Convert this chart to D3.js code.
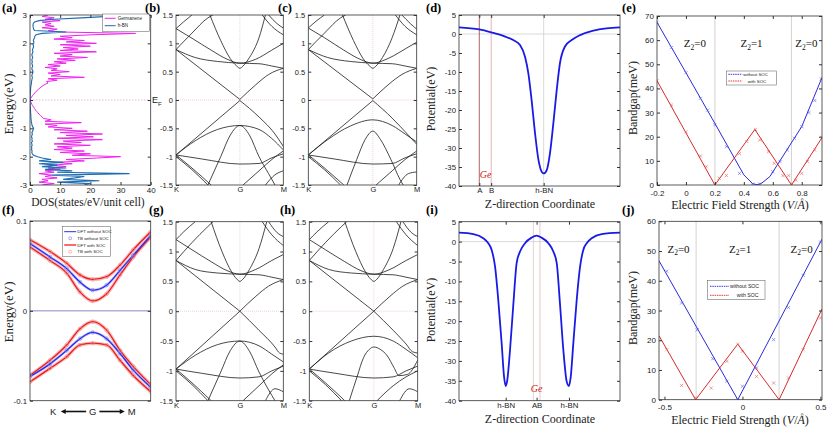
<!DOCTYPE html>
<html><head><meta charset="utf-8">
<script src="https://cdn.jsdelivr.net/npm/d3@7"></script>
<style>body{margin:0;background:#fff} svg{display:block}</style>
</head><body><script>
// ---------------- DATA ----------------
// (a) DOS, energy grid -3..3 eV step 0.05
const dosEnergy = d3.range(121).map(i => Math.round((-3 + i*0.05)*100)/100);
const dosGermanene = [4,8,3,6,4,9,5,7,3,8,5,10,6,12,7,14,9,18,12,22,30,14,20,10,18,8,14,9,20,8,17,11,24,9,21,12,24,10,19,8,14,6,9,5,17,5,7,4.5,4,3.5,3,2.6,2.2,1.8,1.5,1.2,0.9,0.6,0.4,0.2,0,0.2,0.5,0.8,1.2,1.6,2,2.5,3,3.6,4.2,5,6,5.5,9,6,18,7,10,6,13,7,9,5,10,6,12,8,15,9,19,10,14,8,22,10,16,11,20,10,22,12,18,8,14,10,20,35,10,6,9,4,8,5,7,4,10,5,8,4,6];
const dosHBN = [18,20,9,23,11,15,18,7,33,9,14,5,12,4,9,3,11,3,7,4,2.5,1.2,0.8,0.6,0.7,0.5,0.6,0.5,0.7,0.6,0.5,0.8,0.6,0.7,0.5,0.6,0.8,0.6,0.9,1,1.2,0.9,0.7,0.6,0.5,0.4,0.4,0.3,0.3,0.3,0.25,0.2,0.2,0.15,0.15,0.1,0.1,0.05,0.05,0,0,0,0.05,0.05,0.1,0.1,0.15,0.2,0.2,0.25,0.3,0.4,0.5,0.5,0.6,0.7,0.8,0.6,0.7,0.9,1,0.8,0.6,0.7,0.9,0.7,0.6,0.8,0.6,0.7,0.9,0.7,0.6,0.8,1,0.8,0.9,1.1,1.2,1,1.2,1.3,1.1,1.3,1.5,1.6,2,4,12,1.5,1.2,1.1,1,1,1.1,1.5,3,8,17,26,38];
const dosSeries = ["Germanene","h-BN"];

// band structures: k (K=0, G=1, M=1.68), energy eV
const kLabels = ["K","G","M"];
const kTicks = [0,1,1.68];
const bandsB = [
 [[0,0.89],[1,0.01]],
 [[0,-0.97],[1,-0.01]],
 [[1,0.01],[1.25,0.27],[1.45,0.45],[1.68,0.56]],
 [[1,-0.01],[1.3,-0.3],[1.55,-0.6],[1.68,-0.82]],
 [[0,0.89],[0.3,0.75],[0.65,0.68],[1,0.65],[1.3,0.64],[1.5,0.6],[1.68,0.56]],
 [[0,1.26],[0.25,1.09],[0.55,0.88],[0.8,0.72],[1,0.65],[1.25,0.72],[1.5,0.88],[1.68,1.0]],
 [[0.53,1.5],[0.7,1.05],[0.85,0.73],[0.95,0.6],[1,0.56],[1.05,0.6],[1.15,0.75],[1.3,1.1],[1.4,1.5]],
 [[0,0.89],[0.25,1.18],[0.5,1.45],[0.58,1.5]],
 [[0,1.26],[0.12,1.38],[0.25,1.5]],
 [[1.35,1.5],[1.5,1.3],[1.68,1.15]],
 [[1.45,1.5],[1.58,1.35],[1.68,1.27]],
 [[0,-0.97],[0.3,-0.72],[0.65,-0.52],[1,-0.45],[1.3,-0.52],[1.5,-0.68],[1.68,-0.88]],
 [[0.5,-1.5],[0.7,-1.0],[0.85,-0.62],[1,-0.45],[1.15,-0.62],[1.3,-1.0],[1.45,-1.3],[1.55,-1.5]],
 [[0,-0.97],[0.4,-1.04],[1,-1.13],[1.3,-1.12],[1.5,-1.02],[1.68,-0.95]],
 [[0,-0.97],[0.25,-1.2],[0.55,-1.5]],
 [[0,-1.0],[0.25,-1.23],[0.5,-1.5]],
 [[1.05,-1.5],[1.3,-1.25],[1.5,-1.05],[1.68,-0.9]],
 [[1.4,-1.5],[1.55,-1.32],[1.68,-1.25]]
];
const bandsC = [
 [[0,0.89],[1,0.02]],
 [[0,-0.97],[1,-0.01]],
 [[1,0.02],[1.25,0.28],[1.45,0.45],[1.68,0.56]],
 [[1,-0.01],[1.3,-0.32],[1.55,-0.62],[1.68,-0.78]],
 [[0,0.89],[0.3,0.75],[0.65,0.68],[1,0.65],[1.3,0.64],[1.5,0.6],[1.68,0.56]],
 [[0,1.27],[0.25,1.1],[0.55,0.88],[0.8,0.72],[1,0.65],[1.25,0.74],[1.5,0.9],[1.68,1.02]],
 [[0.53,1.5],[0.7,1.05],[0.85,0.73],[0.95,0.6],[1,0.56],[1.05,0.6],[1.15,0.75],[1.3,1.1],[1.42,1.5]],
 [[0,0.89],[0.25,1.18],[0.5,1.45],[0.58,1.5]],
 [[0,1.27],[0.12,1.39],[0.25,1.5]],
 [[1.35,1.5],[1.5,1.3],[1.68,1.15]],
 [[1.45,1.5],[1.58,1.35],[1.68,1.25]],
 [[0,-0.97],[0.3,-0.7],[0.65,-0.46],[1,-0.35],[1.3,-0.45],[1.5,-0.6],[1.68,-0.74]],
 [[0.6,-1.5],[0.75,-1.05],[0.88,-0.7],[1,-0.55],[1.12,-0.7],[1.28,-1.05],[1.42,-1.4],[1.47,-1.5]],
 [[0,-0.97],[0.4,-1.04],[1,-1.13],[1.3,-1.12],[1.5,-1.02],[1.68,-0.95]],
 [[0,-0.97],[0.25,-1.2],[0.55,-1.5]],
 [[0,-1.0],[0.25,-1.23],[0.5,-1.5]],
 [[1.05,-1.5],[1.3,-1.25],[1.5,-1.05],[1.68,-0.9]],
 [[1.4,-1.5],[1.55,-1.3],[1.68,-1.27]]
];
const bandsG = [
 [[0,0.85],[1,0.0]],
 [[0,-0.97],[1,0.0]],
 [[1,0],[1.25,0.25],[1.45,0.42],[1.68,0.53]],
 [[1,0],[1.3,-0.32],[1.55,-0.6],[1.62,-0.7],[1.68,-0.72]],
 [[0,0.85],[0.3,0.7],[0.65,0.64],[1,0.62],[1.3,0.61],[1.5,0.57],[1.68,0.53]],
 [[0,1.2],[0.25,1.03],[0.55,0.83],[0.8,0.68],[1,0.62],[1.25,0.7],[1.5,0.85],[1.68,0.95]],
 [[0.55,1.5],[0.72,1.0],[0.87,0.66],[0.95,0.54],[1,0.5],[1.05,0.54],[1.15,0.7],[1.3,1.05],[1.42,1.5]],
 [[0,0.85],[0.25,1.15],[0.5,1.42],[0.58,1.5]],
 [[0,1.2],[0.12,1.33],[0.3,1.5]],
 [[1.35,1.5],[1.5,1.28],[1.68,1.1]],
 [[1.45,1.5],[1.58,1.32],[1.68,1.25]],
 [[0,-0.97],[0.3,-0.74],[0.65,-0.56],[1,-0.5],[1.3,-0.58],[1.5,-0.72],[1.68,-0.85]],
 [[0.5,-1.5],[0.7,-1.02],[0.85,-0.66],[1,-0.5],[1.15,-0.67],[1.3,-1.02],[1.45,-1.32],[1.55,-1.5]],
 [[0,-0.97],[0.4,-1.04],[1,-1.12],[1.3,-1.1],[1.5,-1.0],[1.68,-0.92]],
 [[0,-0.97],[0.25,-1.2],[0.55,-1.5]],
 [[0,-1.0],[0.25,-1.23],[0.5,-1.5]],
 [[1.05,-1.5],[1.3,-1.25],[1.5,-1.05],[1.68,-0.9]],
 [[1.4,-1.5],[1.55,-1.3],[1.68,-1.35]]
];
const bandsH = [
 [[0,0.85],[1,0.0]],
 [[0,-0.97],[1,0.0]],
 [[1,0],[1.25,0.25],[1.45,0.42],[1.68,0.53]],
 [[1,0],[1.3,-0.32],[1.5,-0.55],[1.6,-0.68],[1.68,-0.7]],
 [[0,0.85],[0.3,0.7],[0.65,0.64],[1,0.62],[1.3,0.61],[1.5,0.57],[1.68,0.53]],
 [[0,1.2],[0.25,1.03],[0.55,0.83],[0.8,0.68],[1,0.62],[1.25,0.7],[1.5,0.85],[1.68,0.95]],
 [[0.55,1.5],[0.72,1.0],[0.87,0.66],[0.95,0.54],[1,0.5],[1.05,0.54],[1.15,0.7],[1.3,1.05],[1.42,1.5]],
 [[0,0.85],[0.25,1.15],[0.5,1.42],[0.58,1.5]],
 [[0,1.2],[0.12,1.33],[0.3,1.5]],
 [[1.35,1.5],[1.5,1.28],[1.68,1.1]],
 [[1.45,1.5],[1.58,1.32],[1.68,1.25]],
 [[0,-0.97],[0.3,-0.7],[0.65,-0.5],[1,-0.42],[1.3,-0.5],[1.5,-0.64],[1.68,-0.78]],
 [[0.62,-1.5],[0.74,-1.1],[0.84,-0.78],[0.93,-0.64],[1,-0.6],[1.1,-0.64],[1.21,-0.75],[1.31,-0.94],[1.39,-1.08],[1.52,-1.06],[1.68,-0.82]],
 [[0,-0.97],[0.4,-1.04],[1,-1.12],[1.3,-1.1],[1.5,-1.0],[1.68,-0.92]],
 [[0,-0.97],[0.25,-1.2],[0.55,-1.5]],
 [[0,-1.0],[0.25,-1.23],[0.5,-1.5]],
 [[1.05,-1.5],[1.3,-1.25],[1.5,-1.1],[1.68,-1.0]],
 [[1.4,-1.5],[1.55,-1.3],[1.68,-1.35]]
];

// (d) potential, single h-BN; z fraction 0..1
const potDZ = [0,0.126,0.2,0.275,0.337,0.379,0.41,0.431,0.451,0.472,0.493,0.513,0.526,0.545,0.565,0.586,0.607,0.627,0.658,0.7,0.752,0.834,0.917,1.0];
const potDV = [1.75,1.2,0.44,-0.5,-1.6,-2.9,-6,-10.4,-17.4,-26,-33,-36.2,-36.7,-35.8,-31.4,-23.5,-14.7,-7.7,-3.3,-1.6,-0.3,0.9,1.5,1.75];
const potDTicks = [0.126,0.2,0.526];
const potDTickLabels = ["A","B","h-BN"];
// (i) potential, sandwich
const potIZ = [0,0.089,0.151,0.182,0.203,0.224,0.244,0.265,0.280,0.290,0.300,0.317,0.338,0.358,0.379,0.410,0.451,0.482,0.513,0.555,0.586,0.607,0.627,0.648,0.669,0.683,0.694,0.710,0.731,0.752,0.772,0.793,0.824,0.886,1.0];
const potIV = [2.26,1.9,0.84,-0.4,-2.1,-6.3,-14.7,-25.6,-34,-36.3,-34.8,-27.2,-15.5,-5.4,-2.5,-0.4,1.0,1.5,1.0,-0.4,-2.5,-5.4,-15.5,-27.2,-35.2,-36.3,-34,-25.6,-14.7,-6.3,-2.1,-0.4,0.84,1.9,2.26];
const potITicks = [0.29,0.482,0.683];
const potITickLabels = ["h-BN","AB","h-BN"];
const potILines = [0.462,0.503];

// (e) bandgap vs field (V/Å)
const eBlueField = [-0.2,-0.1,0,0.1,0.15,0.2,0.28,0.37,0.46,0.51,0.6,0.65,0.7,0.75,0.8,0.85,0.89,0.935];
const eBlueGap   = [67.4,56.9,46.5,35.9,31,25,15.9,4.8,0.4,0.4,5.5,9.7,14.5,19.3,24.2,30,35,44];
const eBlueFitX = [-0.2,0,0.2,0.4,0.46,0.49,0.52,0.58,0.8,0.94];
const eBlueFitY = [67.4,46.5,25.5,4.2,0.6,0.1,0.6,3.5,24.2,44.5];
const eRedField = [-0.2,-0.1,0,0.1,0.14,0.2,0.23,0.28,0.37,0.42,0.48,0.51,0.57,0.61,0.67,0.71,0.73,0.76,0.8,0.84,0.89,0.94];
const eRedGap   = [43.2,33.1,22,12,7.6,0.4,2.8,3.9,13,18,23,18.6,13.8,9,3.9,3.9,0.4,2,4.8,9.7,14.5,19.6];
const eRedFitX = [-0.2,0.2,0.476,0.729,0.94];
const eRedFitY = [43.2,0,23,0,19.6];
const eBounds = [0.2,0.729];
const eZ2 = [[0.062,"0"],[0.453,"1"],[0.832,"0"]];
// (j)
const jBlueField = [-0.485,-0.39,-0.29,-0.19,-0.1,-0.03,0,0.09,0.2,0.295,0.39,0.5];
const jBlueGap   = [43.2,32.5,23.5,13.8,6.2,0,4.5,10.7,20.2,31,41.8,53];
const jBlueFitX = [-0.535,-0.03,0.51];
const jBlueFitY = [46.7,0,54];
const jRedField = [-0.485,-0.39,-0.3,-0.2,-0.1,-0.03,0,0.09,0.2,0.295,0.39,0.5];
const jRedGap   = [16.8,4.8,0.6,3.9,12.9,18.7,16.3,7.8,5.6,7.3,16.8,27.5];
const jRedFitX = [-0.535,-0.3,-0.03,0.235,0.51];
const jRedFitY = [21.5,0,18.7,0,30.5];
const jBounds = [-0.297,0.235];
const jZ2 = [[-0.41,"0"],[-0.015,"1"],[0.38,"0"]];
const gapSeries = ["without SOC","with SOC"];

// (f) zoom near Dirac point; k fraction K=0, G=0.519, M=1
const fK = [0,0.166,0.304,0.414,0.519,0.635,0.746,0.856,1.0];
const fBlueC = [0.075,0.060,0.047,0.032,0.023,0.0286,0.045,0.062,0.084];
const fBlueV = [-0.073,-0.059,-0.044,-0.031,-0.024,-0.031,-0.0475,-0.066,-0.085];
const fRedC1 = [0.079,0.066,0.053,0.040,0.035,0.038,0.051,0.068,0.088];
const fRedC2 = [0.071,0.056,0.042,0.021,0.011,0.019,0.040,0.060,0.082];
const fRedV1 = [-0.0716,-0.055,-0.038,-0.020,-0.012,-0.0215,-0.044,-0.062,-0.082];
const fRedV2 = [-0.079,-0.064,-0.051,-0.038,-0.036,-0.038,-0.055,-0.072,-0.090];
const fLegend = ["DFT without SOC","TB without SOC","DFT with SOC","TB with SOC"];

// ---------------- DRAWING ----------------
const W=830,H=428;
const SANS='"Liberation Sans", Arial, sans-serif';
const SERIF='"Liberation Serif","Times New Roman",serif';
const svg=d3.select('body').append('svg').attr('width',W).attr('height',H);
let clipN=0;
const fmt = d => String(d);

function axes(o){
  const x=d3.scaleLinear().domain(o.xd).range([o.x0,o.x1]);
  const y=d3.scaleLinear().domain(o.yd).range([o.y1,o.y0]);
  const id='clip'+(clipN++);
  svg.append('clipPath').attr('id',id).append('rect')
    .attr('x',o.x0).attr('y',o.y0).attr('width',o.x1-o.x0).attr('height',o.y1-o.y0);
  const under=svg.append('g');
  const plot=svg.append('g').attr('clip-path',`url(#${id})`);
  const fs=o.fs||8;
  const la=svg.append('g').attr('transform',`translate(${o.x0},0)`)
    .call(d3.axisLeft(y).tickValues(o.yt).tickSize(-3).tickSizeOuter(0).tickPadding(o.ypad||3).tickFormat(o.yf||fmt));
  la.select('.domain').remove();
  la.selectAll('text').attr('font-family',SANS).attr('font-size',fs).attr('fill','#222');
  la.selectAll('line').attr('stroke','#333');
  const ra=svg.append('g').attr('transform',`translate(${o.x1},0)`)
    .call(d3.axisRight(y).tickValues(o.yt).tickSize(-3).tickSizeOuter(0).tickFormat(''));
  ra.select('.domain').remove(); ra.selectAll('line').attr('stroke','#333');
  if(o.xt){
    const ts=o.xts===undefined?3:o.xts;
    const ba=svg.append('g').attr('transform',`translate(0,${o.y1})`)
      .call(d3.axisBottom(x).tickValues(o.xt).tickSize(-ts).tickSizeOuter(0).tickPadding(o.xpad||2).tickFormat(o.xf||fmt));
    ba.select('.domain').remove();
    ba.selectAll('text').attr('font-family',SANS).attr('font-size',o.xfs||fs).attr('fill','#222');
    ba.selectAll('line').attr('stroke','#333');
    if(ts>0){
      const ta=svg.append('g').attr('transform',`translate(0,${o.y0})`)
        .call(d3.axisTop(x).tickValues(o.xt).tickSize(-ts).tickSizeOuter(0).tickFormat(''));
      ta.select('.domain').remove(); ta.selectAll('line').attr('stroke','#333');
    }
  }
  svg.append('rect').attr('x',o.x0).attr('y',o.y0).attr('width',o.x1-o.x0).attr('height',o.y1-o.y0)
    .attr('fill','none').attr('stroke','#333').attr('stroke-width',0.8);
  return {x,y,plot,under};
}
function label(txt,x,y){
  svg.append('text').attr('x',x).attr('y',y).attr('font-family',SERIF).attr('font-weight','bold')
    .attr('font-size',12.5).text(txt);
}
function ytitle(txt,x,y,fs){
  svg.append('text').attr('transform',`translate(${x},${y}) rotate(-90)`).attr('text-anchor','middle')
    .attr('font-family',SERIF).attr('font-size',fs||12).attr('fill','#222').text(txt);
}
function xtitle(txt,x,y,fs){
  return svg.append('text').attr('x',x).attr('y',y).attr('text-anchor','middle')
    .attr('font-family',SERIF).attr('font-size',fs||12).attr('fill','#222').text(txt);
}
function legend(x,y,w,h,items,fs){
  const g=svg.append('g');
  g.append('rect').attr('x',x).attr('y',y).attr('width',w).attr('height',h).attr('fill','#fff').attr('stroke','#555').attr('stroke-width',0.5);
  items.forEach((it,i)=>{
    const yy=y+it.dy;
    if(it.type==='line') g.append('line').attr('x1',x+it.lx0).attr('x2',x+it.lx1).attr('y1',yy).attr('y2',yy)
        .attr('stroke',it.color).attr('stroke-width',it.w||1).attr('stroke-dasharray',it.dash||null);
    else g.append('circle').attr('cx',x+(it.lx0+it.lx1)/2).attr('cy',yy).attr('r',1.5).attr('fill','none').attr('stroke',it.color).attr('stroke-width',0.6);
    g.append('text').attr('x',x+it.tx).attr('y',yy+fs*0.35).attr('font-family',SANS).attr('font-size',fs).attr('fill','#222').text(it.text);
  });
}

// ----- (a) DOS -----
{
  const A=axes({x0:30,x1:150.7,y0:15,y1:185,xd:[0,40],yd:[-3,3],yt:[-3,-2,-1,0,1,2,3],xt:[0,10,20,30,40],fs:8});
  A.plot.append('line').attr('x1',30).attr('x2',150.7).attr('y1',A.y(0)).attr('y2',A.y(0))
    .attr('stroke','#e0a0b0').attr('stroke-dasharray','1.5,1.5').attr('stroke-width',0.7);
  const ln=(arr)=>d3.line().x((d,i)=>A.x(arr[i])).y((d,i)=>A.y(dosEnergy[i]))(dosEnergy);
  A.plot.append('path').attr('d',ln(dosGermanene)).attr('fill','none').attr('stroke','#ee22ee').attr('stroke-width',1);
  A.plot.append('path').attr('d',ln(dosHBN)).attr('fill','none').attr('stroke','#1f6db0').attr('stroke-width',1.1);
  legend(102.7,14,46.6,17.7,[
    {type:'line',color:'#ee22ee',lx0:2,lx1:13,tx:15,dy:4.3,text:dosSeries[0]},
    {type:'line',color:'#1f6db0',lx0:2,lx1:13,tx:15,dy:11.7,text:dosSeries[1]}],4.6);
  const ef=svg.append('text').attr('x',152).attr('y',103).attr('font-family',SANS).attr('font-size',9).attr('fill','#222');
  ef.append('tspan').text('E'); ef.append('tspan').attr('font-size',6).attr('dy',2.5).text('F');
  ytitle('Energy(eV)',13,104,13);
  xtitle('DOS(states/eV/unit cell)',88,205.5,11.5);
  label('(a)',2,12);
}

// ----- band panels -----
function bandPanel(bands,x0,x1,y0,y1){
  const B=axes({x0,x1,y0,y1,xd:[0,1.68],yd:[-1.5,1.5],yt:[-1.5,-1,-0.5,0,0.5,1,1.5],
    xt:kTicks,xts:0,xf:(d,i)=>kLabels[i],xpad:2,fs:7.5});
  B.under.append('line').attr('x1',B.x(1)).attr('x2',B.x(1)).attr('y1',y0).attr('y2',y1)
    .attr('stroke','#e3b6c0').attr('stroke-width',0.6).attr('stroke-dasharray','1,1');
  B.under.append('line').attr('x1',x0).attr('x2',x1).attr('y1',B.y(0)).attr('y2',B.y(0))
    .attr('stroke','#e3b6c0').attr('stroke-width',0.6).attr('stroke-dasharray','1,1');
  const line=d3.line().x(d=>B.x(d[0])).y(d=>B.y(d[1])).curve(d3.curveMonotoneX);
  B.plot.selectAll('path.band').data(bands).join('path').attr('class','band')
    .attr('d',line).attr('fill','none').attr('stroke','#1a1a1a').attr('stroke-width',0.8);
  return B;
}
bandPanel(bandsB,176,283.3,15,185); label('(b)',145,12);
bandPanel(bandsC,308.3,416.7,15,185); label('(c)',278,12);
bandPanel(bandsG,176,283.3,221.7,400.7); label('(g)',149,214);
bandPanel(bandsH,309.3,417.7,221.7,400.7); label('(h)',280,214);

// ----- (d)/(i) potential -----
function potPanel(y0,y1,Z,V,ticks,tickLabels,vlines,geX,geY){
  const P=axes({x0:459,x1:620,y0,y1,xd:[0,1],yd:[-40,5],yt:d3.range(-40,6,5),xt:ticks,xf:(d,i)=>tickLabels[i],fs:7.8,xpad:1.5});
  P.under.append('line').attr('x1',459).attr('x2',620).attr('y1',P.y(0)).attr('y2',P.y(0)).attr('stroke','#c8c8c8').attr('stroke-width',0.7);
  vlines.forEach(v=>P.under.append('line').attr('x1',P.x(v.z)).attr('x2',P.x(v.z)).attr('y1',y0).attr('y2',y1).attr('stroke',v.c).attr('stroke-width',0.8));
  P.plot.append('path').attr('d',d3.line().x((d,i)=>P.x(Z[i])).y(d=>P.y(d)).curve(d3.curveMonotoneX)(V))
    .attr('fill','none').attr('stroke','#1a1ae6').attr('stroke-width',1.8);
  svg.append('text').attr('x',P.x(geX)).attr('y',P.y(geY)).attr('text-anchor','middle').attr('font-family',SERIF)
    .attr('font-style','italic').attr('font-size',10).attr('fill','#d02020').text('Ge');
  return P;
}
potPanel(15,186,potDZ,potDV,potDTicks,potDTickLabels,
  [{z:potDTicks[0],c:'#9a3a3a'},{z:potDTicks[1],c:'#e0a0a0'},{z:potDTicks[2],c:'#cfcfcf'}],0.165,-37.8);
ytitle('Potential(eV)',435,99,12); xtitle('Z-direction Coordinate',540,208,12); label('(d)',426,12);
potPanel(221.7,400.7,potIZ,potIV,potITicks,potITickLabels,
  [{z:potILines[0],c:'#d8c8c8'},{z:potILines[1],c:'#d8b8b8'}],0.482,-37.8);
ytitle('Potential(eV)',435,310,12); xtitle('Z-direction Coordinate',540,422.5,12); label('(i)',426,214);

// ----- (e)/(j) bandgap -----
function gapPanel(o){
  const G=axes({x0:o.x0,x1:822,y0:o.y0,y1:o.y1,xd:o.xd,yd:o.yd,yt:o.yt,xt:o.xt,fs:8,xpad:5});
  o.bounds.forEach(b=>G.under.append('line').attr('x1',G.x(b)).attr('x2',G.x(b)).attr('y1',o.y0).attr('y2',o.y1).attr('stroke','#c8c8c8').attr('stroke-width',0.8));
  const line=(X,Y)=>d3.line().x((d,i)=>G.x(X[i])).y(d=>G.y(d))(Y);
  G.plot.append('path').attr('d',line(o.bfx,o.bfy)).attr('fill','none').attr('stroke','#2a2ad8').attr('stroke-width',1);
  G.plot.append('path').attr('d',line(o.rfx,o.rfy)).attr('fill','none').attr('stroke','#d82a2a').attr('stroke-width',1);
  const mk='M-1.6,-1.6L1.6,1.6M-1.6,1.6L1.6,-1.6';
  G.plot.selectAll('path.mb').data(o.bx).join('path').attr('class','mb').attr('d',mk)
    .attr('transform',(d,i)=>`translate(${G.x(d)},${G.y(o.by[i])})`).attr('stroke','#5a5af0').attr('stroke-width',0.6);
  G.plot.selectAll('path.mr').data(o.rx).join('path').attr('class','mr').attr('d',mk)
    .attr('transform',(d,i)=>`translate(${G.x(d)},${G.y(o.ry[i])})`).attr('stroke','#e06060').attr('stroke-width',0.6);
  o.z2.forEach(z=>{
    const t=svg.append('text').attr('x',G.x(z[0])).attr('y',G.y(o.zy)).attr('text-anchor','middle')
      .attr('font-family',SERIF).attr('font-size',11).attr('fill','#111');
    t.append('tspan').text('Z'); t.append('tspan').attr('font-size',7.5).attr('dy',2.5).text('2');
    t.append('tspan').attr('dy',-2.5).text('='+z[1]);
  });
  return G;
}
function fieldTitle(cx,y){
  const t=svg.append('text').attr('x',cx).attr('y',y).attr('text-anchor','middle').attr('font-family',SERIF).attr('font-size',12).attr('fill','#222');
  t.append('tspan').text('Electric Field Strength (');
  t.append('tspan').attr('font-style','italic').text('V');
  t.append('tspan').text('/');
  t.append('tspan').attr('font-style','italic').text('Å');
  t.append('tspan').text(')');
}
gapPanel({x0:657,y0:16,y1:185,xd:[-0.2,0.94],yd:[0,70],yt:d3.range(0,71,10),xt:[-0.2,0,0.2,0.4,0.6,0.8],
  bounds:eBounds,bfx:eBlueFitX,bfy:eBlueFitY,rfx:eRedFitX,rfy:eRedFitY,bx:eBlueField,by:eBlueGap,rx:eRedField,ry:eRedGap,z2:eZ2,zy:57});
legend(726.7,71,50,14,[
  {type:'line',color:'#3a3ae0',lx0:1.6,lx1:15.6,tx:16.6,dy:3.3,text:gapSeries[0],dash:'1.5,0.8'},
  {type:'line',color:'#e03a3a',lx0:1.6,lx1:15.6,tx:21,dy:10,text:gapSeries[1],dash:'1.5,0.8'}],4.4);
ytitle('Bandgap(meV)',637,98,12);
fieldTitle(740,209); label('(e)',622,12);
gapPanel({x0:659,y0:221.3,y1:399.7,xd:[-0.535,0.51],yd:[0,60],yt:d3.range(0,61,10),xt:[-0.5,0,0.5],
  bounds:jBounds,bfx:jBlueFitX,bfy:jBlueFitY,rfx:jRedFitX,rfy:jRedFitY,bx:jBlueField,by:jBlueGap,rx:jRedField,ry:jRedGap,z2:jZ2,zy:49.5});
legend(707.7,280.7,57.3,19,[
  {type:'line',color:'#3a3ae0',lx0:2.3,lx1:21.3,tx:22.3,dy:5.6,text:gapSeries[0],dash:'1.5,0.8'},
  {type:'line',color:'#e03a3a',lx0:2.3,lx1:21.3,tx:29,dy:14.6,text:gapSeries[1],dash:'1.5,0.8'}],5.2);
ytitle('Bandgap(meV)',637,308,12);
fieldTitle(740,423.5); label('(j)',622,214);

// ----- (f) -----
{
  const F=axes({x0:30,x1:150.7,y0:221,y1:400.7,xd:[0,1],yd:[-0.1,0.1],yt:[-0.1,0,0.1],fs:7.8});
  F.under.append('line').attr('x1',30).attr('x2',150.7).attr('y1',F.y(0)).attr('y2',F.y(0)).attr('stroke','#6a6ab8').attr('stroke-width',0.8);
  const line=(Y)=>d3.line().x((d,i)=>F.x(fK[i])).y(d=>F.y(d)).curve(d3.curveMonotoneX)(Y);
  const red=[fRedC1,fRedC2,fRedV1,fRedV2], blue=[fBlueC,fBlueV];
  red.forEach(s=>F.plot.append('path').attr('d',line(s)).attr('fill','none').attr('stroke','#f6c0c0').attr('stroke-width',3.6));
  blue.forEach(s=>F.plot.append('path').attr('d',line(s)).attr('fill','none').attr('stroke','#c4c4f6').attr('stroke-width',2.8));
  red.forEach(s=>F.plot.append('path').attr('d',line(s)).attr('fill','none').attr('stroke','#ee1c1c').attr('stroke-width',1.3));
  blue.forEach(s=>F.plot.append('path').attr('d',line(s)).attr('fill','none').attr('stroke','#2a2aee').attr('stroke-width',1.3));
  red.forEach(s=>F.plot.selectAll(null).data(s).join('circle').attr('cx',(d,i)=>F.x(fK[i])).attr('cy',d=>F.y(d))
    .attr('r',1.8).attr('fill','none').attr('stroke','#f08a8a').attr('stroke-width',0.6));
  blue.forEach(s=>F.plot.selectAll(null).data(s).join('circle').attr('cx',(d,i)=>F.x(fK[i])).attr('cy',d=>F.y(d))
    .attr('r',1.8).attr('fill','none').attr('stroke','#7a7af0').attr('stroke-width',0.6));
  legend(62.7,226.7,48,30,[
    {type:'line',color:'#2a2aee',lx0:1.5,lx1:13.5,tx:14.6,dy:5,text:fLegend[0]},
    {type:'mark',color:'#6a6af0',lx0:1.5,lx1:13.5,tx:14.6,dy:11.6,text:fLegend[1]},
    {type:'line',color:'#ee1c1c',lx0:1.5,lx1:13.5,tx:14.6,dy:18.3,text:fLegend[2],w:1.3},
    {type:'mark',color:'#f08a8a',lx0:1.5,lx1:13.5,tx:14.6,dy:25,text:fLegend[3]}],4.4);
  const ky=415, tx=(t,x)=>svg.append('text').attr('x',x).attr('y',ky).attr('text-anchor','middle').attr('font-family',SANS).attr('font-size',9.5).attr('fill','#222').text(t);
  tx('K',F.x(0.193)); tx('G',F.x(0.519)); tx('M',F.x(0.842));
  const ay=ky-3.5;
  svg.append('line').attr('x1',F.x(0.28)).attr('x2',F.x(0.465)).attr('y1',ay).attr('y2',ay).attr('stroke','#111').attr('stroke-width',1.6);
  svg.append('path').attr('d',`M${F.x(0.255)},${ay}l5,-2.6l0,5.2z`).attr('fill','#111');
  svg.append('line').attr('x1',F.x(0.575)).attr('x2',F.x(0.76)).attr('y1',ay).attr('y2',ay).attr('stroke','#111').attr('stroke-width',1.6);
  svg.append('path').attr('d',`M${F.x(0.785)},${ay}l-5,-2.6l0,5.2z`).attr('fill','#111');
  ytitle('Energy(eV)',13,312,13);
  label('(f)',2,214);
}
</script></body></html>
